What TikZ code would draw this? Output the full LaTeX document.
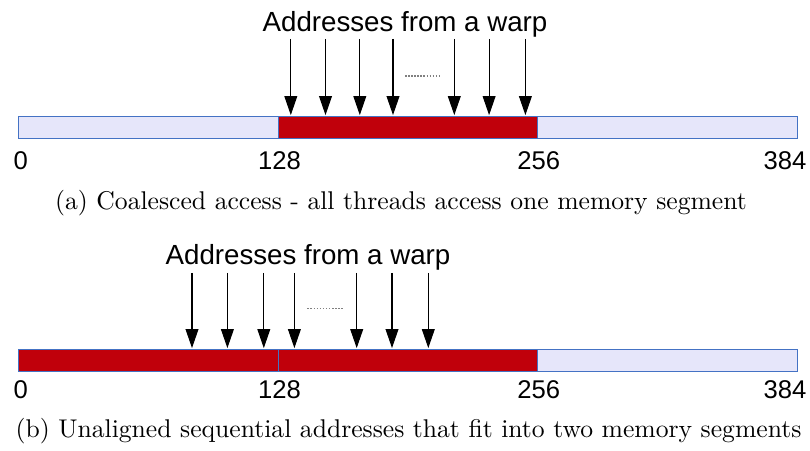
\documentclass[tikz,border=0pt]{standalone}
\usepackage{fontspec}
\newfontfamily\arialfont{Liberation Sans}
\usetikzlibrary{arrows.meta}
\definecolor{segred}{HTML}{C0000B}
\definecolor{seglight}{HTML}{E6E6FA}
\definecolor{segline}{HTML}{4472C4}
\tikzset{
  seg/.style={draw=segline, line width=0.4pt, minimum width=101.2pt,
    minimum height=8.7pt, inner sep=0pt, outer sep=0pt},
  used/.style={seg, fill=segred},
  unused/.style={seg, fill=seglight},
  addr/.style={-{Triangle[length=7.4pt,width=5pt]}, line width=0.4pt, shorten >=0.6pt},
  warptitle/.style={font=\arialfont\fontsize{10.8pt}{13pt}\selectfont, anchor=base, inner sep=0pt},
  offset/.style={font=\arialfont\fontsize{10pt}{12pt}\selectfont, anchor=base, inner sep=0pt},
  subcap/.style={font=\fontsize{10pt}{12pt}\selectfont, anchor=base, inner sep=0pt},
  skipdots/.style={gray, line width=0.4pt, dash pattern=on 0.6pt off 0.6pt}
}
\begin{document}
\begin{tikzpicture}[x=0.39pt, y=-0.39pt]
  \useasboundingbox (0,0) rectangle (810,451);
  % (a) coalesced
  \node[warptitle] (ta) at (405,32) {Addresses from a warp};
  \node[unused] (a1) at (148.5,127.8) {};
  \node[used] (a2) at (408.1,127.8) {};
  \node[unused] (a3) at (667.7,127.8) {};
  \foreach \x [count=\i] in {290.8,325.5,359.8,393.0,454.3,489.1,525.4} {
    \coordinate (pa\i) at (\x,39);
    \draw[addr] (pa\i) -- (pa\i |- a2.north);
  }
  \draw[skipdots] (405,76) -- (441,76);
  \node[offset] (la0) at (20.7,170) {0};
  \node[offset] (la1) at (279.5,170) {128};
  \node[offset] (la2) at (538.7,170) {256};
  \node[offset] (la3) at (785,170) {384};
  \node[subcap] (ca) at (401,210) {(a) Coalesced access - all threads access one memory segment};
  % (b) unaligned
  \node[warptitle] (tb) at (308,265) {Addresses from a warp};
  \node[used] (b1) at (148.5,360.8) {};
  \node[used] (b2) at (408.1,360.8) {};
  \node[unused] (b3) at (667.7,360.8) {};
  \foreach \x [count=\i] in {192,227.4,263.8,294.4,356.7,392,428.3} {
    \coordinate (pb\i) at (\x,273);
    \draw[addr] (pb\i) -- (pb\i |- b1.north);
  }
  \draw[skipdots] (307.4,308.5) -- (342.7,308.5);
  \node[offset] (lb0) at (20.7,399) {0};
  \node[offset] (lb1) at (279.5,399) {128};
  \node[offset] (lb2) at (538.7,399) {256};
  \node[offset] (lb3) at (785,399) {384};
  \node[subcap] (cb) at (408.5,438) {(b) Unaligned sequential addresses that fit into two memory segments};
\end{tikzpicture}
\end{document}
